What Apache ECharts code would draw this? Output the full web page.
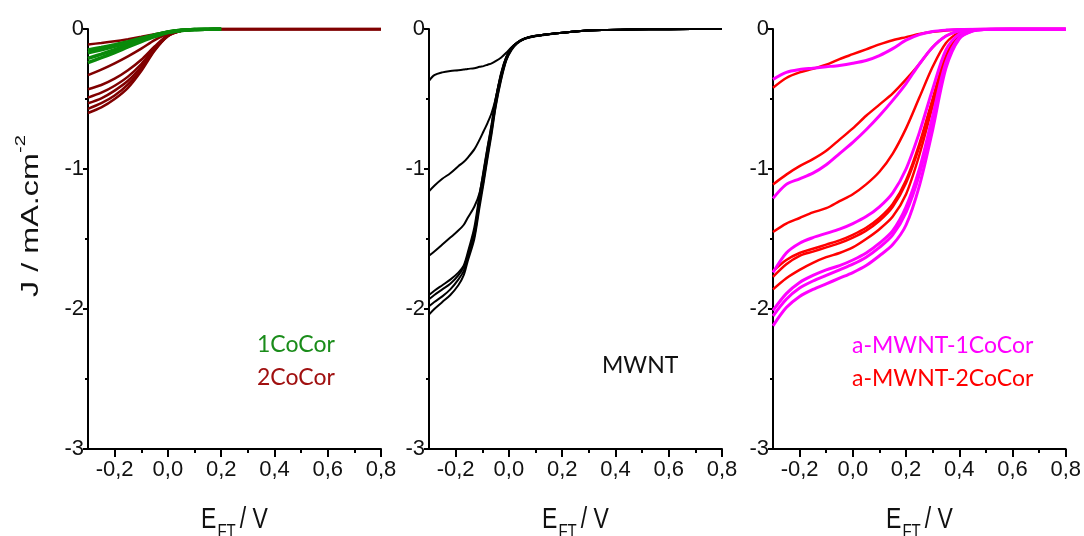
<!DOCTYPE html>
<html><head><meta charset="utf-8">
<script src="https://cdn.jsdelivr.net/npm/echarts@6/dist/echarts.min.js"></script>
<style>html,body{margin:0;padding:0;background:#fff}#c{width:1084px;height:536px}</style>
</head><body><div id="c"></div>
<script>
// ---------- DATA ----------
const xTickMajor = [-0.2, 0, 0.2, 0.4, 0.6, 0.8];
const xTickMinor = [-0.1, 0.1, 0.3, 0.5, 0.7];

// Panel 1 : 1CoCor (green) and 2CoCor (dark red)
const x1 = [-0.3,-0.25,-0.2,-0.15,-0.1,-0.05,0,0.05,0.1,0.15,0.2,0.3,0.4,0.6,0.8];
const coCor1 = [
  [-0.15,-0.132,-0.112,-0.09,-0.066,-0.042,-0.021,-0.009,-0.003,-0.001,0],
  [-0.17,-0.148,-0.124,-0.098,-0.071,-0.045,-0.022,-0.009,-0.003,-0.001,0],
  [-0.21,-0.18,-0.148,-0.115,-0.082,-0.05,-0.024,-0.01,-0.003,-0.001,0],
  [-0.24,-0.205,-0.168,-0.128,-0.09,-0.055,-0.026,-0.01,-0.003,-0.001,0]
];
const coCor2 = [
  [-0.11,-0.10,-0.088,-0.073,-0.056,-0.038,-0.02,-0.008,-0.003,-0.001,0,0,0,0,0],
  [-0.33,-0.29,-0.245,-0.195,-0.14,-0.08,-0.032,-0.009,-0.003,-0.001,0,0,0,0,0],
  [-0.43,-0.40,-0.355,-0.295,-0.22,-0.125,-0.043,-0.011,-0.003,-0.001,0,0,0,0,0],
  [-0.49,-0.455,-0.405,-0.34,-0.25,-0.135,-0.046,-0.012,-0.004,-0.001,0,0,0,0,0],
  [-0.53,-0.495,-0.44,-0.37,-0.27,-0.145,-0.048,-0.012,-0.004,-0.001,0,0,0,0,0],
  [-0.57,-0.53,-0.475,-0.395,-0.285,-0.15,-0.05,-0.013,-0.004,-0.001,0,0,0,0,0],
  [-0.60,-0.56,-0.50,-0.42,-0.30,-0.155,-0.052,-0.013,-0.004,-0.001,0,0,0,0,0]
];

// Panel 2 : MWNT (black)
const x2 = [-0.3,-0.28,-0.25,-0.22,-0.19,-0.17,-0.155,-0.13,-0.11,-0.095,-0.08,-0.065,-0.05,-0.03,-0.01,0.01,0.03,0.06,0.1,0.18,0.25,0.35,0.45,0.6,0.8];
const mwnt = [
  [-0.37,-0.33,-0.31,-0.30,-0.295,-0.29,-0.285,-0.28,-0.27,-0.265,-0.255,-0.245,-0.23,-0.205,-0.17,-0.13,-0.10,-0.068,-0.05,-0.03,-0.017,-0.008,-0.004,-0.001,0],
  [-1.16,-1.12,-1.07,-1.03,-0.98,-0.95,-0.92,-0.86,-0.79,-0.73,-0.67,-0.60,-0.50,-0.32,-0.20,-0.135,-0.098,-0.067,-0.049,-0.03,-0.017,-0.008,-0.004,-0.001,0],
  [-1.62,-1.59,-1.54,-1.49,-1.44,-1.40,-1.35,-1.27,-1.17,-1.01,-0.84,-0.68,-0.50,-0.33,-0.205,-0.135,-0.098,-0.067,-0.049,-0.03,-0.017,-0.008,-0.004,-0.001,0],
  [-1.90,-1.87,-1.83,-1.79,-1.74,-1.69,-1.60,-1.42,-1.18,-1.02,-0.85,-0.69,-0.51,-0.33,-0.205,-0.135,-0.098,-0.067,-0.049,-0.03,-0.017,-0.008,-0.004,-0.001,0],
  [-1.93,-1.90,-1.86,-1.82,-1.76,-1.70,-1.62,-1.45,-1.21,-1.05,-0.88,-0.71,-0.53,-0.35,-0.215,-0.14,-0.10,-0.068,-0.05,-0.03,-0.017,-0.008,-0.004,-0.001,0],
  [-1.98,-1.95,-1.91,-1.86,-1.79,-1.73,-1.64,-1.48,-1.24,-1.08,-0.90,-0.73,-0.55,-0.36,-0.22,-0.145,-0.102,-0.069,-0.05,-0.03,-0.017,-0.008,-0.004,-0.001,0],
  [-2.04,-2.00,-1.95,-1.90,-1.83,-1.76,-1.66,-1.50,-1.27,-1.10,-0.92,-0.75,-0.56,-0.37,-0.225,-0.15,-0.105,-0.07,-0.051,-0.031,-0.017,-0.008,-0.004,-0.001,0]
];

// Panel 3 : a-MWNT-1CoCor (magenta) and a-MWNT-2CoCor (red)
const x3 = [-0.3,-0.25,-0.2,-0.15,-0.1,-0.05,0,0.05,0.1,0.15,0.2,0.25,0.3,0.35,0.4,0.45,0.5,0.6,0.8];
const aMwnt1 = [
  [-0.36,-0.31,-0.29,-0.28,-0.27,-0.26,-0.245,-0.225,-0.19,-0.14,-0.08,-0.04,-0.018,-0.008,-0.003,-0.001,0,0,0],
  [-1.21,-1.11,-1.07,-1.03,-0.97,-0.89,-0.81,-0.72,-0.62,-0.51,-0.39,-0.25,-0.13,-0.05,-0.015,-0.004,-0.001,0,0],
  [-1.74,-1.60,-1.53,-1.49,-1.46,-1.43,-1.39,-1.34,-1.27,-1.17,-1.00,-0.74,-0.43,-0.15,-0.035,-0.008,-0.002,0,0],
  [-2.01,-1.89,-1.81,-1.76,-1.72,-1.69,-1.65,-1.60,-1.53,-1.44,-1.27,-1.00,-0.62,-0.24,-0.06,-0.012,-0.003,0,0],
  [-2.05,-1.93,-1.85,-1.80,-1.76,-1.72,-1.68,-1.63,-1.56,-1.47,-1.31,-1.04,-0.66,-0.26,-0.065,-0.013,-0.003,0,0],
  [-2.12,-1.99,-1.91,-1.86,-1.82,-1.78,-1.74,-1.69,-1.62,-1.54,-1.40,-1.12,-0.72,-0.28,-0.07,-0.015,-0.003,0,0]
];
const aMwnt2 = [
  [-0.42,-0.35,-0.31,-0.285,-0.255,-0.215,-0.18,-0.145,-0.11,-0.08,-0.058,-0.036,-0.02,-0.01,-0.004,-0.001,0,0,0],
  [-1.11,-1.04,-0.98,-0.93,-0.87,-0.79,-0.71,-0.62,-0.54,-0.46,-0.36,-0.25,-0.13,-0.05,-0.015,-0.004,-0.001,0,0],
  [-1.45,-1.39,-1.35,-1.31,-1.28,-1.23,-1.18,-1.11,-1.02,-0.89,-0.71,-0.49,-0.27,-0.10,-0.025,-0.006,-0.001,0,0],
  [-1.73,-1.65,-1.60,-1.57,-1.54,-1.51,-1.47,-1.42,-1.35,-1.25,-1.08,-0.82,-0.50,-0.19,-0.045,-0.01,-0.002,0,0],
  [-1.77,-1.68,-1.62,-1.59,-1.56,-1.53,-1.49,-1.44,-1.37,-1.27,-1.10,-0.84,-0.51,-0.20,-0.05,-0.01,-0.002,0,0],
  [-1.86,-1.78,-1.72,-1.67,-1.63,-1.60,-1.56,-1.50,-1.43,-1.34,-1.18,-0.90,-0.55,-0.22,-0.05,-0.01,-0.002,0,0]
];

// ---------- LAYOUT ----------
const gridLefts = [88, 429, 773];
const gridTop = 29, gridW = 293, gridH = 420;
const FONT = '"Liberation Sans", Arial, sans-serif';

const chart = echarts.init(document.getElementById('c'), null, {renderer: 'canvas'});
const grids = [], xAxes = [], yAxes = [], series = [], graphics = [];

gridLefts.forEach((l, i) => {
  grids.push({left: l, top: gridTop, width: gridW, height: gridH});
  xAxes.push({
    gridIndex: i, type: 'value', min: -0.3, max: 0.8, position: 'bottom',
    axisLine: {show: true, onZero: false, lineStyle: {color: '#000', width: 2}},
    axisTick: {show: true, customValues: xTickMajor, length: 8, lineStyle: {color: '#000', width: 2}},
    axisLabel: {show: true, customValues: xTickMajor, margin: 10, fontSize: 22, color: '#111', fontFamily: FONT,
      formatter: v => v.toFixed(1).replace('.', ',')},
    splitLine: {show: false}
  });
  xAxes.push({
    gridIndex: i, type: 'value', min: -0.3, max: 0.8, position: 'bottom',
    axisLine: {show: false, onZero: false},
    axisTick: {show: true, customValues: xTickMinor, length: 4, lineStyle: {color: '#000', width: 2}},
    axisLabel: {show: false}, splitLine: {show: false}
  });
  yAxes.push({
    gridIndex: i, type: 'value', min: -3, max: 0, interval: 1,
    axisLine: {show: true, onZero: false, lineStyle: {color: '#000', width: 2}},
    axisTick: {show: true, length: 5, lineStyle: {color: '#000', width: 2}},
    minorTick: {show: true, splitNumber: 2, length: 3, lineStyle: {color: '#000', width: 2}},
    axisLabel: {margin: 4, fontSize: 22, color: '#111', fontFamily: FONT, formatter: v => String(v)},
    splitLine: {show: false}, minorSplitLine: {show: false}
  });
  graphics.push({
    type: 'text', x: l + gridW / 2, y: 522, scaleY: 1.25,
    style: {
      text: '{a|E}{s|FT}{a|/ V}', textAlign: 'center', textVerticalAlign: 'middle',
      rich: {
        a: {fontSize: 23, fontFamily: FONT, fill: '#111', verticalAlign: 'top', lineHeight: 26},
        s: {fontSize: 15, fontFamily: FONT, fill: '#111', verticalAlign: 'top', padding: [13, 4, 0, 1], lineHeight: 18}
      }
    }
  });
});

function pairs(xs, ys) { return ys.map((y, k) => [xs[k], y]); }
function addSeries(panel, xs, list, color, width) {
  list.forEach(ys => series.push({
    type: 'line', xAxisIndex: panel * 2, yAxisIndex: panel, data: pairs(xs, ys),
    showSymbol: false, smooth: 0.3, silent: true,
    lineStyle: {color: color, width: width}
  }));
}
addSeries(0, x1, coCor2, '#800000', 2.5);
addSeries(0, x1, coCor1, '#0a8a0a', 3.5);
addSeries(1, x2, mwnt, '#000000', 2);
addSeries(2, x3, aMwnt2, '#ff0000', 2.5);
addSeries(2, x3, aMwnt1, '#ff00ff', 3);

graphics.push({
  type: 'text', x: 28, y: 216, rotation: Math.PI / 2, scaleX: 1.35,
  style: {
    text: '{a|J / mA.cm}{s|-2}', textAlign: 'center', textVerticalAlign: 'middle',
    rich: {
      a: {fontSize: 24, fontFamily: FONT, fill: '#111', verticalAlign: 'bottom', lineHeight: 30},
      s: {fontSize: 15, fontFamily: FONT, fill: '#111', verticalAlign: 'top', lineHeight: 17}
    }
  }
});
const LFONT = 'Lato, "Open Sans", sans-serif';
const labels = [
  {t: '1CoCor', x: 257, y: 345, c: '#1a8c1a'},
  {t: '2CoCor', x: 257, y: 378, c: '#a01010'},
  {t: 'MWNT', x: 602, y: 366, c: '#111'},
  {t: 'a-MWNT-1CoCor', x: 852, y: 346, c: '#ff00ff'},
  {t: 'a-MWNT-2CoCor', x: 852, y: 379, c: '#ff0000'}
];
labels.forEach(o => graphics.push({
  type: 'text', x: o.x, y: o.y,
  style: {text: o.t, fill: o.c, font: '23px ' + LFONT, textAlign: 'left', textVerticalAlign: 'middle'}
}));

chart.setOption({
  animation: false,
  backgroundColor: '#fff',
  grid: grids, xAxis: xAxes, yAxis: yAxes, series: series, graphic: graphics
});
</script></body></html>
